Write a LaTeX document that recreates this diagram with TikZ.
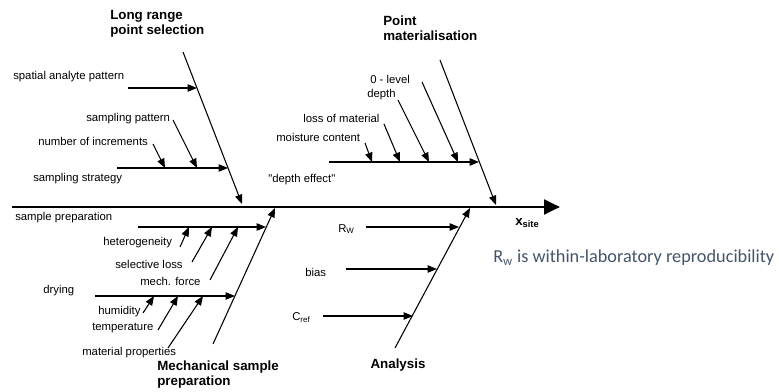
\documentclass[tikz,border=0pt]{standalone}
\usepackage{fontspec}
\setmainfont{Liberation Sans}
\newfontfamily\notefont{Carlito}
\newfontfamily\quotefont{Liberation Sans}
\usepackage{tikz}
\usetikzlibrary{arrows.meta}
\definecolor{notegray}{HTML}{44546A}

\begin{document}
\begin{tikzpicture}[x=0.75pt,y=-0.75pt,
    cause/.style={line width=0.8pt,-{Triangle[length=7pt,width=5.5pt]}},
    lbl/.style={anchor=west,inner sep=0pt,font=\fontsize{8.5}{10}\selectfont},
    ttl/.style={anchor=west,inner sep=0pt,align=left,font=\fontsize{10}{11.3}\selectfont\bfseries}]
        \useasboundingbox (0,0) rectangle (779,392);

        % main axis
        \coordinate (S) at (12,207);
        \coordinate (E) at (560,207);
        \draw[line width=2.2pt,-{Triangle[length=12pt,width=11pt]}] (S) -- (E);
        \node[inner sep=0pt,anchor=west,font=\fontsize{10}{12}\selectfont\bfseries] (xsite) at (515,223) {x\textsubscript{site}};

        % long range point selection
        \coordinate (LR1) at (183,52);
        \coordinate (LR2) at (242,204);
        \coordinate (SA1) at (128,88);
        \coordinate (SA2) at (197,88);
        \coordinate (ST1) at (117,168);
        \coordinate (ST2) at (228,168);
        \coordinate (SP1) at (173,120);
        \coordinate (SP2) at (197,168);
        \coordinate (NI1) at (153,144);
        \coordinate (NI2) at (165,168);
        \draw[cause] (LR1) -- (LR2);
        \draw[cause] (SA1) -- (SA2);
        \draw[cause] (ST1) -- (ST2);
        \draw[cause] (SP1) -- (SP2);
        \draw[cause] (NI1) -- (NI2);
        \node[ttl] (lrps) at (110,23.5) {Long range\\point selection};
        \node[lbl] (sap) at (13,77) {spatial analyte pattern};
        \node[lbl] (spat) at (86,119) {sampling pattern};
        \node[lbl] (ninc) at (38,141) {number of increments};
        \node[lbl] (sstr) at (33,179) {sampling strategy};

        % point materialisation
        \coordinate (PM1) at (440,60);
        \coordinate (PM2) at (496,205);
        \coordinate (DE1) at (329,162);
        \coordinate (DE2) at (479,162);
        \coordinate (MC1) at (365,143);
        \coordinate (MC2) at (372,162);
        \coordinate (LM1) at (384,124);
        \coordinate (LM2) at (400,162);
        \coordinate (DP1) at (398,100);
        \coordinate (DP2) at (429,162);
        \coordinate (ZL1) at (422,82);
        \coordinate (ZL2) at (458,162);
        \draw[cause] (PM1) -- (PM2);
        \draw[cause] (DE1) -- (DE2);
        \draw[cause] (MC1) -- (MC2);
        \draw[cause] (LM1) -- (LM2);
        \draw[cause] (DP1) -- (DP2);
        \draw[cause] (ZL1) -- (ZL2);
        \node[ttl] (pmat) at (383,28) {Point\\materialisation};
        \node[lbl] (zlev) at (370,79) {0 - level};
        \node[lbl] (dpth) at (367,95) {depth};
        \node[lbl] (lmat) at (303,118) {loss of material};
        \node[lbl] (mcon) at (276,137) {moisture content};
        \node[lbl,font=\quotefont\fontsize{8.5}{10}\selectfont] (deff) at (268,180) {"depth effect"};

        % mechanical sample preparation
        \coordinate (MS1) at (213,344);
        \coordinate (MS2) at (275,208);
        \coordinate (PR1) at (138,227);
        \coordinate (PR2) at (266,227);
        \coordinate (HE1) at (180,247);
        \coordinate (HE2) at (189,227);
        \coordinate (SL1) at (192,262);
        \coordinate (SL2) at (212,227);
        \coordinate (MF1) at (210,280);
        \coordinate (MF2) at (238,227);
        \coordinate (DR1) at (95,296);
        \coordinate (DR2) at (235,296);
        \coordinate (HU1) at (143,313);
        \coordinate (HU2) at (154,296);
        \coordinate (TE1) at (158,330);
        \coordinate (TE2) at (178,296);
        \coordinate (MP1) at (168,348);
        \coordinate (MP2) at (203,296);
        \draw[cause] (MS1) -- (MS2);
        \draw[cause] (PR1) -- (PR2);
        \draw[cause] (HE1) -- (HE2);
        \draw[cause] (SL1) -- (SL2);
        \draw[cause] (MF1) -- (MF2);
        \draw[cause] (DR1) -- (DR2);
        \draw[cause] (HU1) -- (HU2);
        \draw[cause] (TE1) -- (TE2);
        \draw[cause] (MP1) -- (MP2);
        \node[ttl] (msp) at (157,375) {Mechanical sample\\preparation};
        \node[lbl] (sprep) at (15,218) {sample preparation};
        \node[lbl] (het) at (103,243) {heterogeneity};
        \node[lbl] (sel) at (115,264) {selective loss};
        \node[lbl] (mech) at (140,281) {mech. force};
        \node[lbl] (dry) at (43,291) {drying};
        \node[lbl] (hum) at (98,312) {humidity};
        \node[lbl] (temp) at (92,328) {temperature};
        \node[lbl] (matp) at (82,353) {material properties};

        % analysis
        \coordinate (AN1) at (395,348);
        \coordinate (AN2) at (470,208);
        \coordinate (RW1) at (366,227);
        \coordinate (RW2) at (459,227);
        \coordinate (BI1) at (346,269);
        \coordinate (BI2) at (437,269);
        \coordinate (CR1) at (323,316);
        \coordinate (CR2) at (413,316);
        \draw[cause] (AN1) -- (AN2);
        \draw[cause] (RW1) -- (RW2);
        \draw[cause] (BI1) -- (BI2);
        \draw[cause] (CR1) -- (CR2);
        \node[ttl,anchor=center] (anl) at (398,365) {Analysis};
        \node[lbl] (rw) at (338,229) {R\textsubscript{W}};
        \node[lbl] (bias) at (305,272) {bias};
        \node[lbl] (cref) at (292,318) {C\textsubscript{ref}};

        \node[anchor=west,inner sep=0pt,text=notegray,font=\notefont\fontsize{13.7}{16}\selectfont] (note) at (493,258) {R\textsubscript{w} is within-laboratory reproducibility};
\end{tikzpicture}
\end{document}
